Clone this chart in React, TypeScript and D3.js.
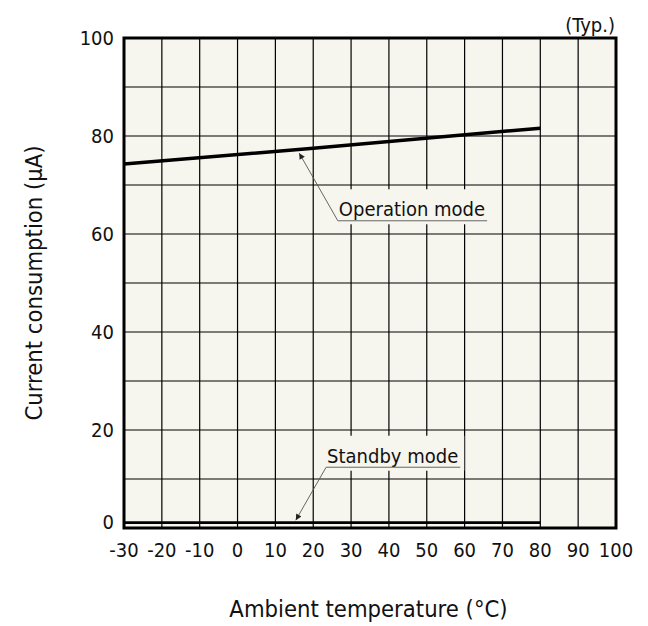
import React, { useEffect, useRef } from "react";
import * as d3 from "d3";

const xTicks = [-30, -20, -10, 0, 10, 20, 30, 40, 50, 60, 70, 80, 90, 100];
const yTicks = [0, 20, 40, 60, 80, 100];
const yGrid = [10, 20, 30, 40, 50, 60, 70, 80, 90];
const operationTemp = [-30, 20, 80];
const operationCurrent = [74.3, 77.5, 81.6];
const standbyTemp = [-30, 80];
const standbyCurrent = [1.1, 1.1];
const annotationLabels = ["Operation mode", "Standby mode"];
const annotationTip = [[16.3, 76.5], [15.4, 1.6]];
const annotationAnchor = [[26.5, 62.7], [23.4, 12.4]];

const FONT = "'DejaVu Sans Condensed', 'DejaVu Sans', sans-serif";

export default function App() {
  const ref = useRef<SVGSVGElement>(null);
  useEffect(() => {
    const svg = d3.select(ref.current);
    svg.selectAll("*").remove();
    const W = 648, H = 626;
    const L = 124, R = 616, T = 38, B = 528;
    const x = d3.scaleLinear().domain([-30, 100]).range([L, R]);
    const y = d3.scaleLinear().domain([0, 100]).range([B, T]);
    const bg = "#f6f5ee";

    svg.append("rect").attr("x", 0).attr("y", 0).attr("width", W).attr("height", H).attr("fill", "#fff");
    svg.append("rect").attr("x", L).attr("y", T).attr("width", R - L).attr("height", B - T).attr("fill", bg);

    const defs = svg.append("defs");
    defs.append("marker").attr("id", "arr").attr("viewBox", "0 0 10 10").attr("refX", 10).attr("refY", 5)
      .attr("markerWidth", 9).attr("markerHeight", 6).attr("markerUnits", "userSpaceOnUse").attr("orient", "auto")
      .append("path").attr("d", "M0,0 L10,5 L0,10 z").attr("fill", "#222");

    const g = svg.append("g");
    g.selectAll("line.vx").data(xTicks.slice(1, -1)).join("line")
      .attr("x1", d => x(d)).attr("x2", d => x(d)).attr("y1", T).attr("y2", B)
      .attr("stroke", "#000").attr("stroke-width", 1.2);
    g.selectAll("line.hy").data(yGrid).join("line")
      .attr("y1", d => y(d)).attr("y2", d => y(d)).attr("x1", L).attr("x2", R)
      .attr("stroke", "#000").attr("stroke-width", 1.2);

    const ann = annotationLabels.map((label, i) => ({
      label, tip: annotationTip[i], anchor: annotationAnchor[i]
    }));
    const annG = svg.append("g");
    ann.forEach(a => {
      const ax = x(a.anchor[0]), ay = y(a.anchor[1]);
      const tx = ax + 1, tb = ay - 4.5;
      const bgRect = annG.append("rect");
      const t = annG.append("text").attr("x", tx).attr("y", tb).text(a.label)
        .attr("font-family", FONT).attr("font-size", 20).attr("fill", "#111");
      const w = (t.node() as SVGTextElement).getComputedTextLength();
      bgRect.attr("x", tx - 6).attr("y", tb - 27).attr("width", w + 12).attr("height", 35).attr("fill", bg);
      annG.append("line").attr("x1", ax).attr("x2", tx + w + 2).attr("y1", ay).attr("y2", ay)
        .attr("stroke", "#666").attr("stroke-width", 1);
      annG.append("line").attr("x1", ax).attr("y1", ay).attr("x2", x(a.tip[0])).attr("y2", y(a.tip[1]))
        .attr("stroke", "#555").attr("stroke-width", 0.9).attr("marker-end", "url(#arr)");
    });

    const line = d3.line<[number, number]>().x(d => x(d[0])).y(d => y(d[1])).curve(d3.curveMonotoneX);
    svg.append("path").datum(operationTemp.map((t, i) => [t, operationCurrent[i]] as [number, number]))
      .attr("d", line).attr("fill", "none").attr("stroke", "#000").attr("stroke-width", 3.5);
    svg.append("path").datum(standbyTemp.map((t, i) => [t, standbyCurrent[i]] as [number, number]))
      .attr("d", line).attr("fill", "none").attr("stroke", "#000").attr("stroke-width", 2.8);

    svg.append("rect").attr("x", L).attr("y", T).attr("width", R - L).attr("height", B - T)
      .attr("fill", "none").attr("stroke", "#000").attr("stroke-width", 3);

    svg.selectAll("text.xt").data(xTicks).join("text")
      .attr("x", d => x(d)).attr("y", 557).attr("text-anchor", "middle").text(d => String(d))
      .attr("font-family", FONT).attr("font-size", 20).attr("fill", "#111");
    svg.selectAll("text.yt").data(yTicks).join("text")
      .attr("x", 114).attr("y", d => y(d) + 7 - (d === 0 ? 6 : 0)).attr("text-anchor", "end").text(d => String(d))
      .attr("font-family", FONT).attr("font-size", 20).attr("fill", "#111");

    svg.append("text").attr("x", R - 1).attr("y", 32).attr("text-anchor", "end").text("(Typ.)")
      .attr("font-family", FONT).attr("font-size", 20).attr("fill", "#111");

    svg.append("text").attr("x", 368.5).attr("y", 617).attr("text-anchor", "middle").text("Ambient temperature (°C)")
      .attr("font-family", FONT).attr("font-size", 23.6).attr("fill", "#111");
    svg.append("text").attr("transform", "translate(42,283) rotate(-90)").attr("text-anchor", "middle")
      .text("Current consumption (µA)")
      .attr("font-family", FONT).attr("font-size", 23.6).attr("fill", "#111");
  }, []);
  return (
    <svg ref={ref} width={648} height={626} style={{ position: "absolute", left: 0, top: 0 }} />
  );
}
